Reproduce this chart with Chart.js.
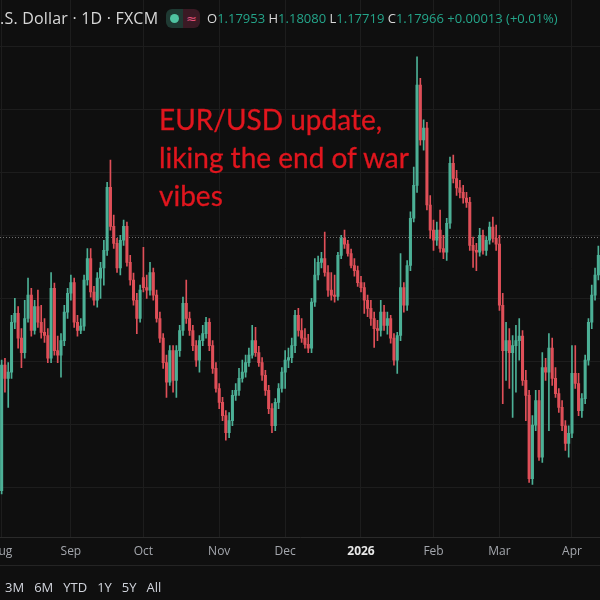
<!DOCTYPE html>
<html>
<head>
<meta charset="utf-8">
<script src="https://cdn.jsdelivr.net/npm/chart.js@4.4.1/dist/chart.umd.min.js"></script>
<style>
  html, body { margin: 0; padding: 0; background: #0f0f0f; }
  #wrap { position: relative; width: 600px; height: 600px; overflow: hidden; background: #0f0f0f; }
  #chart { position: absolute; left: 0; top: 0; }
  .title { position: absolute; left: 0; top: 7px; font: 16px "Open Sans", sans-serif; letter-spacing: 0.2px; color: #d8d8d8; white-space: nowrap; }
  .pill { position: absolute; left: 166px; top: 9px; width: 34px; height: 19px; border-radius: 6px; overflow: hidden; display: flex; }
  .pill .l { width: 17px; background: #1f3a33; position: relative; }
  .pill .l::after { content: ""; position: absolute; left: 4px; top: 5px; width: 9px; height: 9px; border-radius: 50%; background: #4fc3a1; }
  .pill .r { width: 17px; background: #3a1a24; color: #e0507a; font: 13px "DejaVu Sans", sans-serif; text-align: center; line-height: 19px; }
  .ohlc { position: absolute; left: 207px; top: 9px; font: 13px "Open Sans", sans-serif; color: #24a58a; white-space: nowrap; }
  .ohlc b { font-weight: normal; color: #d8d8d8; }
  .note { position: absolute; left: 159px; top: 100px; font: 28px Lato, sans-serif; line-height: 38px; color: #e0161e; -webkit-text-stroke: 0.3px #e0161e; white-space: nowrap; }
  .sep { position: absolute; left: 0; top: 565px; width: 600px; height: 1px; background: #242424; }
  .ranges { position: absolute; left: 5px; top: 578px; font: 13px "Open Sans", sans-serif; color: #d1d4dc; white-space: nowrap; }
  .ranges span { margin-right: 10px; }
</style>
</head>
<body>
<div id="wrap">
  <canvas id="chart" width="600" height="600"></canvas>
  <div class="title">.S. Dollar · 1D · FXCM</div>
  <div class="pill"><div class="l"></div><div class="r">≈</div></div>
  <div class="ohlc"><b>O</b>1.17953 <b>H</b>1.18080 <b>L</b>1.17719 <b>C</b>1.17966 +0.00013 (+0.01%)</div>
  <div class="note">EUR/USD update,<br>liking the end of war<br>vibes</div>
  <div class="sep"></div>
  <div class="ranges"><span>3M</span><span>6M</span><span>YTD</span><span>1Y</span><span>5Y</span><span>All</span></div>
</div>
<script>
// ===== DATA =====
const monthLabels = ["Aug", "Sep", "Oct", "Nov", "Dec", "2026", "Feb", "Mar", "Apr"];
const barsPerMonth = [21, 22, 23, 20, 23, 22, 20, 22, 9];
const priceGrid = [1.14, 1.15, 1.16, 1.17, 1.18, 1.19, 1.20, 1.21];
const lastClose = 1.17966;

const opens = [
  1.1395, 1.1594, 1.1573, 1.1583, 1.1662, 1.1676, 1.1637, 1.1614, 1.1668, 1.1705, 1.1649, 1.1687, 1.1662, 1.1646, 1.1641, 1.1605, 1.1716, 1.1617, 1.1610, 1.1633, 1.1678,
  1.1708, 1.1725, 1.1662, 1.1649, 1.1656, 1.1729, 1.1763, 1.1710, 1.1697, 1.1732, 1.1748, 1.1776, 1.1876, 1.1814, 1.1787, 1.1748, 1.1792, 1.1814, 1.1757, 1.1729, 1.1697, 1.1668,
  1.1733, 1.1717, 1.1713, 1.1741, 1.1705, 1.1668, 1.1637, 1.1598, 1.1567, 1.1617, 1.1570, 1.1617, 1.1649, 1.1692, 1.1668, 1.1649, 1.1625, 1.1602, 1.1633, 1.1644, 1.1662, 1.1625, 1.1589,
  1.1557, 1.1535, 1.1514, 1.1487, 1.1506, 1.1546, 1.1554, 1.1573, 1.1583, 1.1598, 1.1610, 1.1633, 1.1614, 1.1598, 1.1578, 1.1554, 1.1525, 1.1498, 1.1535, 1.1557,
  1.1583, 1.1602, 1.1606, 1.1625, 1.1673, 1.1649, 1.1637, 1.1627, 1.1621, 1.1694, 1.1737, 1.1757, 1.1763, 1.1741, 1.1713, 1.1705, 1.1703, 1.1768, 1.1795, 1.1786, 1.1771, 1.1752, 1.1744,
  1.1725, 1.1717, 1.1697, 1.1684, 1.1668, 1.1652, 1.1649, 1.1678, 1.1657, 1.1668, 1.1637, 1.1602, 1.1641, 1.1717, 1.1689, 1.1752, 1.1827, 1.1879, 1.2038, 1.1951, 1.1970, 1.1848,
  1.1808, 1.1792, 1.1808, 1.1779, 1.1773, 1.1819, 1.1914, 1.1890, 1.1875, 1.1868, 1.1859, 1.1852, 1.1784, 1.1776, 1.1773, 1.1800, 1.1776, 1.1792, 1.1813, 1.1795,
  1.1786, 1.1689, 1.1617, 1.1633, 1.1614, 1.1625, 1.1633, 1.1640, 1.1570, 1.1546, 1.1414, 1.1499, 1.1538, 1.1448, 1.1590, 1.1583, 1.1621, 1.1573, 1.1549, 1.1527, 1.1498, 1.1470,
  1.1486, 1.1581, 1.1565, 1.1522, 1.1541, 1.1602, 1.1662, 1.1705, 1.1737
];
const highs = [
  1.1602, 1.1605, 1.1598, 1.1673, 1.1700, 1.1687, 1.1652, 1.1697, 1.1732, 1.1716, 1.1697, 1.1713, 1.1689, 1.1668, 1.1652, 1.1741, 1.1724, 1.1640, 1.1644, 1.1689, 1.1716,
  1.1737, 1.1732, 1.1673, 1.1668, 1.1737, 1.1779, 1.1779, 1.1719, 1.1741, 1.1757, 1.1792, 1.1884, 1.1919, 1.1832, 1.1795, 1.1800, 1.1824, 1.1821, 1.1768, 1.1740, 1.1708, 1.1721,
  1.1781, 1.1737, 1.1757, 1.1748, 1.1713, 1.1678, 1.1644, 1.1610, 1.1625, 1.1625, 1.1625, 1.1657, 1.1702, 1.1729, 1.1678, 1.1657, 1.1633, 1.1641, 1.1657, 1.1670, 1.1668, 1.1633, 1.1598,
  1.1565, 1.1543, 1.1522, 1.1519, 1.1554, 1.1565, 1.1589, 1.1602, 1.1610, 1.1621, 1.1657, 1.1654, 1.1624, 1.1606, 1.1586, 1.1562, 1.1533, 1.1541, 1.1565, 1.1590,
  1.1617, 1.1621, 1.1637, 1.1681, 1.1684, 1.1668, 1.1652, 1.1643, 1.1700, 1.1763, 1.1767, 1.1773, 1.1805, 1.1752, 1.1741, 1.1737, 1.1773, 1.1800, 1.1808, 1.1792, 1.1778, 1.1763, 1.1751,
  1.1735, 1.1725, 1.1705, 1.1697, 1.1678, 1.1665, 1.1697, 1.1689, 1.1678, 1.1673, 1.1644, 1.1646, 1.1771, 1.1725, 1.1760, 1.1837, 1.1908, 1.2083, 1.2049, 1.1983, 1.1979, 1.1863,
  1.1824, 1.1821, 1.1840, 1.1800, 1.1827, 1.1924, 1.1927, 1.1903, 1.1887, 1.1879, 1.1868, 1.1860, 1.1797, 1.1787, 1.1811, 1.1808, 1.1798, 1.1821, 1.1829, 1.1816,
  1.1800, 1.1708, 1.1662, 1.1652, 1.1641, 1.1657, 1.1668, 1.1649, 1.1586, 1.1554, 1.1514, 1.1554, 1.1554, 1.1614, 1.1605, 1.1644, 1.1637, 1.1590, 1.1557, 1.1538, 1.1506, 1.1498,
  1.1625, 1.1625, 1.1581, 1.1549, 1.1610, 1.1668, 1.1721, 1.1748, 1.1783
];
const lows = [
  1.1390, 1.1551, 1.1527, 1.1573, 1.1652, 1.1621, 1.1590, 1.1605, 1.1662, 1.1640, 1.1643, 1.1654, 1.1637, 1.1630, 1.1598, 1.1598, 1.1610, 1.1598, 1.1575, 1.1625, 1.1668,
  1.1697, 1.1654, 1.1640, 1.1644, 1.1649, 1.1721, 1.1702, 1.1689, 1.1686, 1.1700, 1.1721, 1.1768, 1.1808, 1.1779, 1.1741, 1.1737, 1.1784, 1.1751, 1.1721, 1.1689, 1.1644, 1.1662,
  1.1710, 1.1700, 1.1705, 1.1697, 1.1662, 1.1630, 1.1589, 1.1543, 1.1562, 1.1551, 1.1543, 1.1608, 1.1641, 1.1660, 1.1641, 1.1617, 1.1592, 1.1583, 1.1625, 1.1637, 1.1617, 1.1581, 1.1551,
  1.1525, 1.1506, 1.1475, 1.1479, 1.1498, 1.1538, 1.1546, 1.1567, 1.1575, 1.1592, 1.1605, 1.1608, 1.1592, 1.1570, 1.1546, 1.1517, 1.1487, 1.1490, 1.1525, 1.1551,
  1.1557, 1.1590, 1.1598, 1.1614, 1.1640, 1.1630, 1.1621, 1.1614, 1.1614, 1.1687, 1.1729, 1.1748, 1.1735, 1.1703, 1.1697, 1.1694, 1.1697, 1.1763, 1.1779, 1.1767, 1.1748, 1.1735, 1.1719,
  1.1710, 1.1676, 1.1671, 1.1657, 1.1622, 1.1633, 1.1640, 1.1649, 1.1643, 1.1629, 1.1594, 1.1581, 1.1633, 1.1678, 1.1681, 1.1744, 1.1821, 1.1868, 1.1943, 1.1935, 1.1840, 1.1795,
  1.1776, 1.1784, 1.1773, 1.1763, 1.1760, 1.1811, 1.1883, 1.1863, 1.1859, 1.1851, 1.1844, 1.1776, 1.1749, 1.1744, 1.1767, 1.1770, 1.1768, 1.1786, 1.1789, 1.1776,
  1.1681, 1.1533, 1.1570, 1.1557, 1.1511, 1.1551, 1.1602, 1.1562, 1.1506, 1.1408, 1.1405, 1.1490, 1.1443, 1.1440, 1.1570, 1.1490, 1.1562, 1.1543, 1.1519, 1.1490, 1.1459, 1.1448,
  1.1479, 1.1557, 1.1514, 1.1511, 1.1533, 1.1594, 1.1652, 1.1697, 1.1729
];
const closes = [
  1.1594, 1.1573, 1.1583, 1.1662, 1.1676, 1.1637, 1.1614, 1.1668, 1.1705, 1.1649, 1.1687, 1.1662, 1.1646, 1.1641, 1.1605, 1.1716, 1.1617, 1.1610, 1.1633, 1.1678, 1.1708,
  1.1725, 1.1662, 1.1649, 1.1656, 1.1729, 1.1763, 1.1710, 1.1697, 1.1732, 1.1748, 1.1776, 1.1876, 1.1814, 1.1787, 1.1748, 1.1792, 1.1814, 1.1757, 1.1729, 1.1697, 1.1668, 1.1713,
  1.1717, 1.1713, 1.1741, 1.1705, 1.1668, 1.1637, 1.1598, 1.1567, 1.1617, 1.1570, 1.1617, 1.1649, 1.1692, 1.1668, 1.1649, 1.1625, 1.1602, 1.1633, 1.1644, 1.1662, 1.1625, 1.1589, 1.1557,
  1.1535, 1.1514, 1.1487, 1.1506, 1.1546, 1.1554, 1.1573, 1.1583, 1.1598, 1.1610, 1.1633, 1.1614, 1.1598, 1.1578, 1.1554, 1.1525, 1.1498, 1.1535, 1.1557, 1.1583,
  1.1602, 1.1606, 1.1625, 1.1673, 1.1649, 1.1637, 1.1627, 1.1621, 1.1694, 1.1737, 1.1757, 1.1763, 1.1741, 1.1713, 1.1705, 1.1703, 1.1768, 1.1795, 1.1786, 1.1771, 1.1752, 1.1744, 1.1725,
  1.1717, 1.1697, 1.1684, 1.1668, 1.1652, 1.1649, 1.1678, 1.1657, 1.1668, 1.1637, 1.1602, 1.1641, 1.1717, 1.1689, 1.1752, 1.1827, 1.1879, 1.2038, 1.1951, 1.1970, 1.1848, 1.1808,
  1.1792, 1.1808, 1.1779, 1.1773, 1.1819, 1.1914, 1.1890, 1.1875, 1.1868, 1.1859, 1.1852, 1.1784, 1.1776, 1.1773, 1.1800, 1.1776, 1.1792, 1.1813, 1.1795, 1.1786,
  1.1689, 1.1617, 1.1633, 1.1614, 1.1625, 1.1633, 1.1640, 1.1570, 1.1546, 1.1414, 1.1499, 1.1538, 1.1448, 1.1590, 1.1583, 1.1621, 1.1573, 1.1549, 1.1527, 1.1498, 1.1470, 1.1486,
  1.1581, 1.1565, 1.1522, 1.1541, 1.1602, 1.1662, 1.1705, 1.1737, 1.1768
];

// ===== LAYOUT / STYLE =====
const upColor = "#4cb096";
const downColor = "#df4f58";
const gridColor = "#1d1d1d";
const axisFont = "'Open Sans', sans-serif";

// one category per bar, month name on the first bar of each month
const labels = [];
monthLabels.forEach((m, k) => {
  for (let d = 0; d < barsPerMonth[k]; d++) labels.push(d === 0 ? m : "");
});

const candleColors = opens.map((o, i) => (closes[i] >= o ? upColor : downColor));

// dotted last-price line, like the platform's price line
const priceLine = {
  id: "priceLine",
  beforeDatasetsDraw(chart) {
    const { ctx, chartArea, scales } = chart;
    const y = Math.round(scales.y.getPixelForValue(lastClose)) + 0.5;
    ctx.save();
    ctx.strokeStyle = "#707070";
    ctx.lineWidth = 1;
    ctx.setLineDash([1, 2]);
    ctx.beginPath();
    ctx.moveTo(chartArea.left, y);
    ctx.lineTo(chartArea.right, y);
    ctx.stroke();
    ctx.restore();
  }
};

new Chart(document.getElementById("chart"), {
  type: "bar",
  data: {
    labels: labels,
    datasets: [
      {
        // bodies (dataset 0 is drawn on top)
        data: opens.map((o, i) => [o, closes[i]]),
        backgroundColor: candleColors,
        barThickness: 2.4,
        minBarLength: 1,
        grouped: false
      },
      {
        // wicks
        data: lows.map((l, i) => [l, highs[i]]),
        backgroundColor: candleColors,
        barThickness: 1,
        grouped: false
      }
    ]
  },
  options: {
    responsive: false,
    animation: false,
    events: [],
    layout: { autoPadding: false, padding: { top: 0, left: 0, right: 0, bottom: 34 } },
    plugins: { legend: { display: false }, tooltip: { enabled: false } },
    scales: {
      x: {
        type: "category",
        offset: true,
        // let the first month label run off the left edge, as in the screenshot
        afterFit: scale => {
          scale.paddingLeft = 0;
          scale.paddingRight = 0;
        },
        border: { color: "#2a2a2a" },
        grid: {
          offset: false,
          drawTicks: false,
          color: ctx => (ctx.tick && ctx.tick.label ? gridColor : "rgba(0,0,0,0)")
        },
        ticks: {
          autoSkip: false,
          maxRotation: 0,
          minRotation: 0,
          padding: 7,
          color: ctx => (ctx.tick && ctx.tick.label === "2026" ? "#e8e8e8" : "#a4a7ad"),
          font: ctx => ({
            family: axisFont,
            size: 12,
            weight: ctx.tick && ctx.tick.label === "2026" ? "bold" : "normal"
          })
        }
      },
      y: {
        position: "right",
        min: 1.13206,
        max: 1.21730,
        afterBuildTicks: scale => {
          scale.ticks = priceGrid.map(v => ({ value: v }));
        },
        border: { display: false },
        grid: { color: gridColor, drawTicks: false },
        ticks: { display: false }
      }
    }
  },
  plugins: [priceLine]
});
</script>
</body>
</html>
